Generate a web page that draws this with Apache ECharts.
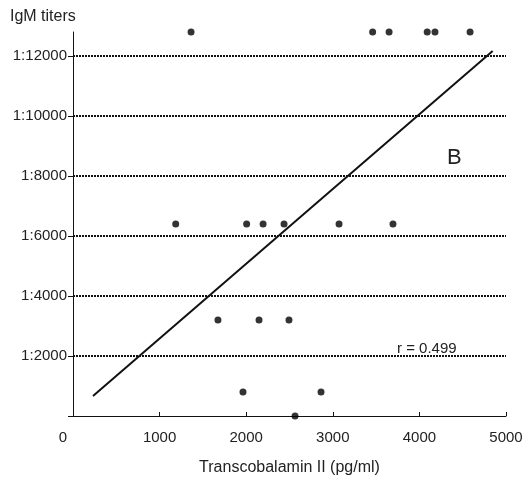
<!DOCTYPE html>
<html>
<head>
<meta charset="utf-8">
<script src="https://cdn.jsdelivr.net/npm/echarts@6/dist/echarts.min.js"></script>
<style>html,body{margin:0;padding:0;background:#fff}#chart{width:524px;height:477px}</style>
</head>
<body>
<div id="chart"></div>
<script>
// TC II (pg/ml) vs IgM titre (reciprocal)
var tcValues  = [1363, 3460, 3650, 4090, 4180, 4585,
                 1186, 2005, 2195, 2437, 3072, 3695,
                 1674, 2148, 2494,
                 1963, 2864,
                 2564];
var igmValues = [12800, 12800, 12800, 12800, 12800, 12800,
                 6400, 6400, 6400, 6400, 6400, 6400,
                 3200, 3200, 3200,
                 800, 800,
                 0];
var fitX = [231, 4846];
var fitY = [667, 12167];
var yTicks = [0, 2000, 4000, 6000, 8000, 10000, 12000];
var gridYs = [2000, 4000, 6000, 8000, 10000, 12000];

var font = 'Liberation Sans, Arial, sans-serif';
var chart = echarts.init(document.getElementById('chart'));

var points = tcValues.map(function (x, i) { return [x, igmValues[i]]; });
var fit = fitX.map(function (x, i) { return [x, fitY[i]]; });

chart.setOption({
  animation: false,
  grid: {left: 73, right: 18, top: 32, bottom: 61, outerBoundsMode: 'none', containLabel: false},
  xAxis: {
    type: 'value', min: 0, max: 5000, interval: 1000,
    name: 'Transcobalamin II (pg/ml)', nameLocation: 'middle', nameGap: 44,
    nameTextStyle: {fontFamily: font, fontSize: 16, color: '#222'},
    axisLine: {lineStyle: {color: '#111', width: 1}},
    axisTick: {inside: true, length: 4, lineStyle: {color: '#111'}},
    axisLabel: {
      fontFamily: font, fontSize: 15, color: '#222', margin: 14,
      formatter: function (v) { return v === 0 ? '{z|0}' : String(v); },
      rich: {z: {fontFamily: font, fontSize: 15, color: '#222', padding: [0, 20, 0, 0]}}
    },
    splitLine: {show: false}
  },
  yAxis: {
    type: 'value', min: 0, max: 12800,
    axisLine: {show: true, lineStyle: {color: '#111', width: 1}},
    axisTick: {show: true, length: 5, customValues: yTicks, lineStyle: {color: '#111'}},
    axisLabel: {
      fontFamily: font, fontSize: 15, color: '#222', margin: 6,
      customValues: yTicks,
      formatter: function (v) { return v === 0 ? '' : '1:' + v; }
    },
    splitLine: {show: false}
  },
  graphic: [
    {type: 'text', left: 10, top: 9, style: {text: 'IgM titers', font: '16px ' + font, fill: '#222'}},
    {type: 'text', left: 447, top: 147, style: {text: 'B', font: '22px ' + font, fill: '#222'}},
    {type: 'text', left: 397, top: 341, style: {text: 'r = 0.499', font: '15px ' + font, fill: '#222'}}
  ],
  series: [
    {
      type: 'line', data: fit, symbol: 'none', silent: true,
      lineStyle: {color: '#111', width: 2},
      markLine: {
        silent: true, symbol: 'none', label: {show: false},
        lineStyle: {color: '#111', type: [2, 1], width: 2},
        data: gridYs.map(function (v) { return {yAxis: v}; })
      },
      z: 3
    },
    {
      type: 'scatter', data: points, symbol: 'circle', symbolSize: 7,
      itemStyle: {color: '#000'}, z: 4
    }
  ]
});
</script>
</body>
</html>
